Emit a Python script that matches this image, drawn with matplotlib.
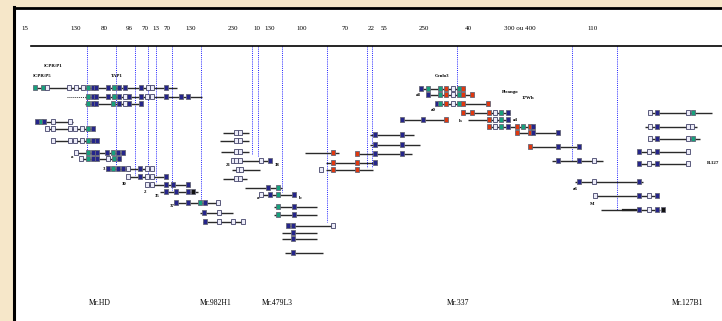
import matplotlib.pyplot as plt
from matplotlib.patches import Rectangle

# couleurs des exons
COUL = {'b': '#25258a', 't': '#17a07c', 'r': '#e0380f', 'w': '#ececf8', 'k': '#111111'}

# en-tete : distances entre marqueurs
tete_x = [25, 76, 104, 129, 145, 156, 167, 191, 233, 257, 270, 302, 345, 371, 384, 424, 468, 520, 593]
tete_lab = ['15', '130', '80', '96', '70', '13', '70', '130', '230', '10', '130', '100', '70', '22', '55',
            '250', '40', '300 ou 400', '110']

# lignes verticales pointillees (position, fin)
vert_x = [87, 116, 135, 148, 156, 172, 201, 252, 258, 282, 327, 367, 372, 457, 572, 617]
vert_fin = [160, 165, 175, 178, 183, 190, 202, 155, 157, 192, 222, 168, 168, 88, 160, 210]

# transcrits : (y, debut, fin, exons)
transcrits = [
    # Mr HD
    (87, 35, 177, [(35, 't'), (43, 't'), (47, 'w'), (69, 'w'), (76, 'w'), (83, 'w'), (88, 't'), (93, 'b'), (96, 'b'),
                   (108, 'b'), (114, 't'), (119, 'b'), (125, 'b'), (141, 'b'), (148, 'w'), (152, 'w'), (166, 'b')]),
    (96, 85, 202, [(88, 't'), (93, 'b'), (96, 'b'), (108, 'b'), (114, 't'), (119, 'b'), (125, 'w'), (129, 'b'),
                   (141, 'b'), (147, 'w'), (152, 'w'), (166, 'b'), (181, 'b'), (188, 'b')]),
    (103, 85, 142, [(88, 't'), (93, 'b'), (96, 'b'), (113, 't'), (119, 'b'), (125, 'w'), (129, 'b'), (141, 'b')]),
    (121, 36, 73, [(37, 'b'), (41, 't'), (44, 'b'), (53, 'w'), (70, 'w')]),
    (128, 47, 94, [(47, 'w'), (53, 'w'), (70, 'w'), (75, 'w'), (82, 'w'), (88, 't'), (93, 'b')]),
    (140, 53, 98, [(53, 'w'), (70, 'w'), (75, 'w'), (82, 'w'), (88, 't'), (93, 'b'), (97, 'b')]),
    (152, 76, 124, [(76, 'w'), (88, 't'), (93, 'b'), (97, 'b'), (107, 'b'), (113, 't'), (118, 'b'), (123, 'b')]),
    (158, 81, 121, [(81, 'w'), (88, 't'), (93, 'b'), (97, 'b'), (108, 'w'), (114, 't'), (119, 'b')]),
    (168, 106, 154, [(108, 'b'), (113, 't'), (118, 'b'), (123, 'b'), (128, 'w'), (140, 'b'), (147, 'w'), (152, 'w')]),
    (176, 128, 167, [(128, 'w'), (140, 'b'), (147, 'w'), (152, 'w'), (166, 'b')]),
    (184, 146, 190, [(147, 'w'), (152, 'w'), (166, 'b'), (173, 'b'), (188, 'b')]),
    (191, 160, 198, [(166, 'b'), (176, 'b'), (188, 'b'), (193, 'k')]),
    (202, 174, 220, [(176, 'b'), (188, 'b'), (200, 't'), (205, 'b'), (218, 'w')]),
    (212, 200, 233, [(204, 'b'), (219, 'w')]),
    (221, 203, 244, [(205, 'b'), (219, 'w'), (233, 'w'), (243, 'w')]),
    # Mr982H1
    (132, 223, 249, [(236, 'w'), (240, 'w')]),
    (140, 220, 249, [(236, 'w'), (240, 'w')]),
    (151, 221, 249, [(236, 'w'), (240, 'w')]),
    (160, 231, 271, [(233, 'w'), (236, 'w'), (240, 'w'), (261, 'w'), (270, 'b')]),
    (169, 232, 260, [(238, 'w'), (241, 'w')]),
    (178, 223, 247, [(236, 'w'), (240, 'w')]),
    # Mr479L3
    (187, 245, 282, [(268, 'b'), (278, 't')]),
    (194, 260, 295, [(261, 'w'), (270, 'b'), (278, 't'), (294, 'b')]),
    (206, 274, 317, [(278, 't'), (294, 'b')]),
    (214, 274, 317, [(278, 't'), (294, 'b')]),
    (225, 287, 335, [(288, 'b'), (293, 'b'), (333, 'w')]),
    (232, 282, 317, [(293, 'b')]),
    (238, 282, 317, [(293, 'b')]),
    (252, 285, 323, [(293, 'b')]),
    # Mr337
    (152, 305, 339, [(333, 'r')]),
    (162, 326, 377, [(333, 'r'), (357, 'r'), (375, 'b')]),
    (169, 326, 373, [(321, 'w'), (333, 'r'), (357, 'r')]),
    (134, 370, 414, [(375, 'b'), (402, 'b')]),
    (144, 370, 420, [(375, 'b'), (402, 'b')]),
    (153, 357, 412, [(357, 'r'), (375, 'b'), (402, 'b')]),
    (119, 402, 446, [(402, 'b'), (423, 'b'), (446, 'r')]),
    (88, 421, 465, [(421, 'b'), (428, 't'), (440, 't'), (446, 'r'), (453, 'w'), (459, 't'), (463, 'r')]),
    (94, 428, 472, [(428, 'b'), (440, 't'), (446, 'r'), (453, 'w'), (459, 't'), (463, 'r'), (472, 'r')]),
    (103, 437, 488, [(437, 'b'), (440, 't'), (446, 'r'), (453, 'w'), (459, 't'), (463, 'r'), (488, 'r')]),
    (112, 463, 510, [(463, 'r'), (472, 'r'), (489, 'r'), (495, 'w'), (501, 't'), (508, 'b')]),
    (119, 468, 510, [(489, 'r'), (495, 'w'), (501, 't'), (508, 'b')]),
    (126, 489, 535, [(489, 'r'), (495, 'w'), (501, 't'), (508, 'b'), (517, 'r'), (523, 't'), (530, 'r'), (533, 'b')]),
    (132, 517, 558, [(517, 'r'), (530, 'r'), (533, 'b'), (558, 'b')]),
    (146, 530, 580, [(530, 'r'), (558, 'b'), (579, 'b')]),
    (160, 552, 603, [(558, 'b'), (579, 'b'), (594, 'w')]),
    (181, 575, 643, [(579, 'b'), (594, 'w'), (639, 'b')]),
    (195, 594, 658, [(595, 'w'), (639, 'b'), (649, 'w'), (657, 'b')]),
    (209, 601, 660, [(639, 'b'), (649, 'w'), (657, 'b'), (663, 'k')]),
    # Mr127B1
    (112, 648, 712, [(650, 'w'), (657, 'b'), (688, 'w'), (693, 't')]),
    (126, 645, 697, [(650, 'w'), (657, 'b'), (688, 'w'), (692, 'w')]),
    (138, 648, 700, [(650, 'w'), (657, 'b'), (688, 'w'), (693, 't')]),
    (151, 639, 689, [(639, 'b'), (649, 'w'), (657, 'b'), (688, 'w')]),
    (163, 639, 689, [(639, 'b'), (649, 'w'), (657, 'b'), (688, 'w')]),
]

# petites etiquettes
notes_x = [53, 42, 117, 442, 510, 528, 713, 72, 104, 124, 145, 157, 172, 228, 277, 258, 300, 418, 433, 460, 515, 575, 592]
notes_y = [66, 76, 76, 76, 92, 98, 163, 157, 169, 184, 192, 196, 206, 165, 165, 198, 198, 95, 110, 121, 120, 189, 204]
notes_txt = ['ICPR/P1', 'ICPR/P5', 'TAP1', 'Cenlo3', 'Pirango', '17Wh', 'B-127', 'a', '3', '30', '2', '35', '37',
             '21', '38', 'a', 'b', 'a8', 'a0', 'h', 'a4', 'a6', 'M']

# noms des BAC
bac_x = [100, 216, 277, 458, 688]
bac_lab = ['Mr.HD', 'Mr.982H1', 'Mr.479L3', 'Mr.337', 'Mr.127B1']

fig = plt.figure(figsize=(7.22, 3.21), dpi=100)
fig.patch.set_facecolor('#f6e7c9')
ax = fig.add_axes([0, 0, 1, 1])
ax.set_xlim(0, 722)
ax.set_ylim(321, 0)
ax.axis('off')

# panneau blanc et bordure
ax.add_patch(Rectangle((14, 8), 710, 315, facecolor='white', edgecolor='none', zorder=0))
ax.plot([14, 722], [7.5, 7.5], color='black', lw=2)
ax.plot([14, 14], [7, 321], color='black', lw=2.2)

# en-tete
ax.plot([31, 722], [46, 46], color='black', lw=1.2)
for x, t in zip(tete_x, tete_lab):
    ax.text(x, 29, t, fontsize=5, family='Liberation Serif', ha='center', va='center')

for x, fin in zip(vert_x, vert_fin):
    ax.plot([x, x], [46, fin], color='#2020ff', lw=0.7, ls=(0, (1, 1.2)), zorder=1)

# transcrits
for y, debut, fin, ex in transcrits:
    ax.plot([debut, fin], [y + 0.5, y + 0.5], color='#2a2a2a', lw=1.0, zorder=4, solid_capstyle='butt')
    for x, c in ex:
        ec = '#666677' if c != 'w' else '#44446a'
        ax.add_patch(Rectangle((x - 1.6, y - 2.2), 3.2, 5.4, facecolor=COUL[c], edgecolor=ec, lw=0.6, zorder=5))
ax.plot([67, 85], [96.5, 96.5], color='#333333', lw=0.7, ls=(0, (1, 1)), zorder=4)
ax.plot([623, 640], [209.5, 209.5], color='#222222', lw=1.6, zorder=4)

for x, y, t in zip(notes_x, notes_y, notes_txt):
    ax.text(x, y, t, fontsize=3.5, family='Liberation Serif', ha='center', va='center', weight='bold')

for x, t in zip(bac_x, bac_lab):
    ax.text(x, 303, t, fontsize=5.5, family='Liberation Serif', ha='center', va='center')

fig.savefig('out.png', dpi=100, facecolor=fig.get_facecolor())
